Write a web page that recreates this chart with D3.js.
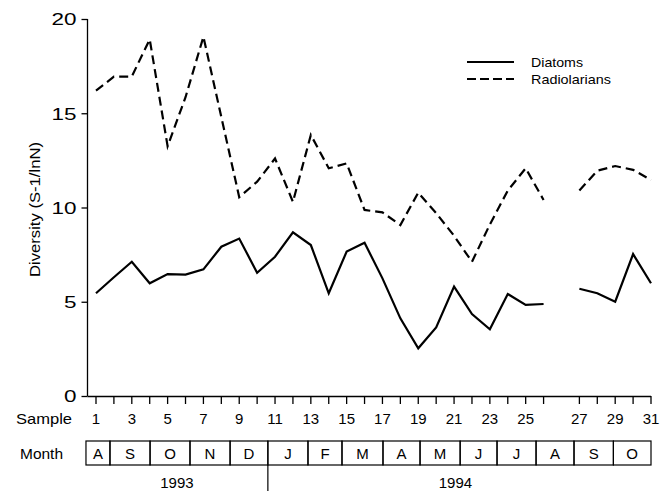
<!DOCTYPE html>
<html>
<head>
<meta charset="utf-8">
<script src="https://cdn.jsdelivr.net/npm/d3@7"></script>
<style>
  body { margin: 0; background: #fff; }
  svg text { font-family: "Liberation Sans", Arial, Helvetica, sans-serif; fill: #000; }
</style>
</head>
<body>
<div id="chart"></div>
<script>
// sample numbers (a gap of one slot is left between 26 and 27)
const samples = [1, 2, 3, 4, 5, 6, 7, 8, 9, 10, 11, 12, 13, 14, 15, 16,
                 17, 18, 19, 20, 21, 22, 23, 24, 25, 26, 27, 28, 29, 30, 31];
const sampleLabels = [1, 3, 5, 7, 9, 11, 13, 15, 17, 19, 21, 23, 25, 27, 29, 31];

const diatoms = [5.45, 6.3, 7.12, 5.98, 6.47, 6.44, 6.72, 7.92, 8.35, 6.54, 7.39, 8.68, 8.01, 5.45, 7.66, 8.13,
                 6.24, 4.12, 2.53, 3.64, 5.8, 4.35, 3.54, 5.41, 4.83, 4.88, 5.69, 5.45, 5.0, 7.53, 5.98];
const radiolarians = [16.2, 16.94, 16.95, 18.92, 13.25, 15.85, 19.06, 14.8, 10.55, 11.37, 12.6, 10.3, 13.85, 12.08, 12.34, 9.87,
                      9.74, 9.07, 10.79, 9.7, 8.5, 7.12, 9.1, 10.9, 12.08, 10.4, 10.9, 11.95, 12.2, 12.0, 11.46];

const yTicks = [0, 5, 10, 15, 20];

// months of the sampling period, with their edges on the sample scale
const months = ["A", "S", "O", "N", "D", "J", "F", "M", "A", "M", "J", "J", "A", "S", "O"];
const monthEdges = [0.44, 1.78, 4.02, 6.25, 8.49, 10.6, 12.84, 14.74, 17.03, 19.1, 21.34, 23.4, 25.58, 27.7, 29.9, 32.0];
const years = [{ label: "1993", from: 0, to: 5 }, { label: "1994", from: 5, to: 15 }];

const width = 669, height = 491;
const slot = s => (s > 26 ? s + 1 : s);

const svg = d3.select("#chart").append("svg")
    .attr("width", width)
    .attr("height", height);

const x = d3.scaleLinear().domain([1, 32]).range([96, 651]);
const y = d3.scaleLinear().domain([0, 20]).range([396, 19]);

const axisX = 87.5;

// y axis
const yAxis = svg.append("g")
    .attr("transform", `translate(${axisX},0)`)
    .call(d3.axisLeft(y).tickValues(yTicks).tickSize(6).tickPadding(5));
yAxis.select(".domain").attr("stroke", "#000").attr("stroke-width", 1.3).attr("d", `M0,${y(20)}V${y(0)}`);
yAxis.selectAll(".tick line").attr("stroke", "#000").attr("stroke-width", 1.3);
yAxis.selectAll(".tick text")
    .style("font-size", "16px")
    .attr("dy", "0.36em")
    .attr("textLength", d => String(d).length * 12.5)
    .attr("lengthAdjust", "spacingAndGlyphs");

svg.append("text")
    .attr("transform", `translate(40,${(y(0) + y(20)) / 2 + 2}) rotate(-90)`)
    .attr("text-anchor", "middle")
    .style("font-size", "15.5px")
    .attr("textLength", 135).attr("lengthAdjust", "spacingAndGlyphs")
    .text("Diversity (S-1/lnN)");

// x axis
svg.append("line")
    .attr("x1", axisX).attr("x2", x(32))
    .attr("y1", y(0) + 0.5).attr("y2", y(0) + 0.5)
    .attr("stroke", "#000").attr("stroke-width", 1.3);

svg.selectAll(".xtick")
    .data(samples)
    .enter().append("line")
    .attr("class", "xtick")
    .attr("x1", d => x(slot(d))).attr("x2", d => x(slot(d)))
    .attr("y1", y(0)).attr("y2", y(0) + 8)
    .attr("stroke", "#000").attr("stroke-width", 1.3);

svg.selectAll(".xlabel")
    .data(sampleLabels)
    .enter().append("text")
    .attr("class", "xlabel")
    .attr("x", d => x(slot(d)))
    .attr("y", 424)
    .attr("text-anchor", "middle")
    .style("font-size", "15px")
    .text(d => d);

svg.append("text")
    .attr("x", 16).attr("y", 424)
    .style("font-size", "15px")
    .attr("textLength", 56).attr("lengthAdjust", "spacingAndGlyphs")
    .text("Sample");

// lines, broken between samples 26 and 27
const line = d3.line()
    .x(d => x(slot(d.s)))
    .y(d => y(d.v));

function segments(values) {
  const pts = samples.map((s, i) => ({ s, v: values[i] }));
  return [pts.filter(p => p.s <= 26), pts.filter(p => p.s >= 27)];
}

svg.selectAll(".diatoms")
    .data(segments(diatoms))
    .enter().append("path")
    .attr("class", "diatoms")
    .attr("d", line)
    .attr("fill", "none")
    .attr("stroke", "#000")
    .attr("stroke-width", 2.2)
    .attr("stroke-linejoin", "miter");

svg.selectAll(".radiolarians")
    .data(segments(radiolarians))
    .enter().append("path")
    .attr("class", "radiolarians")
    .attr("d", line)
    .attr("fill", "none")
    .attr("stroke", "#000")
    .attr("stroke-width", 2.2)
    .attr("stroke-dasharray", "9,5");

// legend
const legend = svg.append("g").attr("transform", "translate(467,62)");
[["Diatoms", null, 52], ["Radiolarians", "9,4", 80]].forEach(([name, dash, len], i) => {
  legend.append("line")
      .attr("x1", 0).attr("x2", 47)
      .attr("y1", i * 17).attr("y2", i * 17)
      .attr("stroke", "#000").attr("stroke-width", 2.2)
      .attr("stroke-dasharray", dash);
  legend.append("text")
      .attr("x", 64).attr("y", i * 17 + 5)
      .style("font-size", "13.5px")
      .attr("textLength", len).attr("lengthAdjust", "spacingAndGlyphs")
      .text(name);
});

// month row
const boxTop = 441, boxBottom = 465;
svg.append("text")
    .attr("x", 20).attr("y", 459)
    .style("font-size", "15px")
    .attr("textLength", 43).attr("lengthAdjust", "spacingAndGlyphs")
    .text("Month");

svg.selectAll(".month")
    .data(months)
    .enter().append("rect")
    .attr("class", "month")
    .attr("x", (d, i) => x(monthEdges[i]))
    .attr("y", boxTop)
    .attr("width", (d, i) => x(monthEdges[i + 1]) - x(monthEdges[i]))
    .attr("height", boxBottom - boxTop)
    .attr("fill", "none")
    .attr("stroke", "#000")
    .attr("stroke-width", 1.2);

svg.selectAll(".monthlabel")
    .data(months)
    .enter().append("text")
    .attr("class", "monthlabel")
    .attr("x", (d, i) => (x(monthEdges[i]) + x(monthEdges[i + 1])) / 2)
    .attr("y", 459)
    .attr("text-anchor", "middle")
    .style("font-size", "15px")
    .text(d => d);

// year divider and labels
svg.append("line")
    .attr("x1", x(monthEdges[5])).attr("x2", x(monthEdges[5]))
    .attr("y1", boxBottom).attr("y2", height)
    .attr("stroke", "#000").attr("stroke-width", 1.2);

svg.selectAll(".year")
    .data(years)
    .enter().append("text")
    .attr("class", "year")
    .attr("x", d => (x(monthEdges[d.from]) + x(monthEdges[d.to])) / 2 + (d.label === "1994" ? -4 : 0))
    .attr("y", 488)
    .attr("text-anchor", "middle")
    .style("font-size", "15px")
    .text(d => d.label);
</script>
</body>
</html>
